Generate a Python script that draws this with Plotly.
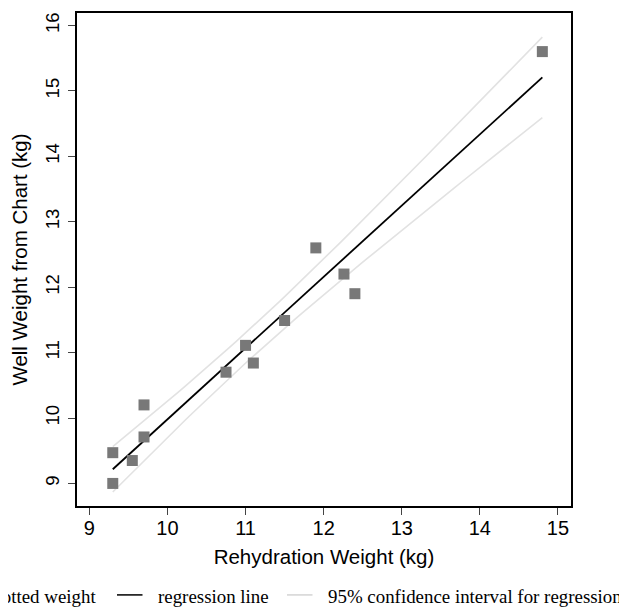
import numpy as np
import plotly.graph_objects as go

# Data
rehydration_kg = [9.3, 9.3, 9.55, 9.7, 9.7, 10.75, 11.0, 11.1, 11.5, 11.9, 12.26, 12.4, 14.8]
well_weight_kg = [9.0, 9.47, 9.35, 10.2, 9.71, 10.70, 11.11, 10.84, 11.49, 12.6, 12.2, 11.9, 15.6]
x_ticks = [9, 10, 11, 12, 13, 14, 15]
y_ticks = [9, 10, 11, 12, 13, 14, 15, 16]
legend_labels = ["Plotted weight", "regression line", "95% confidence interval for regression"]

# Linear fit and 95% CI for the regression line
x = np.array(rehydration_kg)
y = np.array(well_weight_kg)
n = len(x)
slope, intercept = np.polyfit(x, y, 1)
resid = y - (slope * x + intercept)
se = np.sqrt(np.sum(resid ** 2) / (n - 2))
sxx = np.sum((x - x.mean()) ** 2)
t_crit = 2.201  # t(0.975, df=11)
xs = np.linspace(x.min(), x.max(), 60)
yfit = slope * xs + intercept
half = t_crit * se * np.sqrt(1.0 / n + (xs - x.mean()) ** 2 / sxx)

fig = go.Figure()
ci_color = "#e2e2e2"
fig.add_trace(go.Scatter(x=xs, y=yfit + half, mode="lines",
                         line=dict(color=ci_color, width=1.6), showlegend=False, hoverinfo="skip"))
fig.add_trace(go.Scatter(x=xs, y=yfit - half, mode="lines",
                         line=dict(color=ci_color, width=1.6), showlegend=False, hoverinfo="skip"))
fig.add_trace(go.Scatter(x=xs, y=yfit, mode="lines",
                         line=dict(color="black", width=1.8), showlegend=False))
fig.add_trace(go.Scatter(x=rehydration_kg, y=well_weight_kg, mode="markers",
                         marker=dict(symbol="square", size=11, color="#787878"),
                         showlegend=False))

W, H = 627, 615
L, R, T, B = 69, 64, 4.5, 117
pw = W - L - R
ph = H - T - B
OFF = 8  # page offset of the figure inside the browser window

def px_x(p):
    return (p - OFF - L) / pw

def px_y(p):
    return (H - B - (p - OFF)) / ph

legend_font = dict(family="Liberation Serif, Times New Roman, serif", size=18.9, color="black")
line_y = 595
text_y = 597
annotations = [
    dict(text=legend_labels[0], x=px_x(-16), y=px_y(text_y)),
    dict(text=legend_labels[1], x=px_x(156), y=px_y(text_y)),
    dict(text=legend_labels[2], x=px_x(326), y=px_y(text_y)),
]
for a in annotations:
    a.update(xref="paper", yref="paper", xanchor="left", yanchor="middle",
             showarrow=False, font=legend_font)

shapes = [
    dict(type="line", xref="paper", yref="paper", x0=px_x(117), x1=px_x(142.5),
         y0=px_y(line_y), y1=px_y(line_y), line=dict(color="black", width=1.5)),
    dict(type="line", xref="paper", yref="paper", x0=px_x(287), x1=px_x(312.5),
         y0=px_y(line_y), y1=px_y(line_y), line=dict(color="#d4d4d4", width=1.5)),
]

sans = "Liberation Sans, Arial, Helvetica, sans-serif"
title_font = dict(family=sans, size=20.5, color="black")

fig.update_layout(
    width=W, height=H,
    margin=dict(l=L, r=R, t=T, b=B, autoexpand=False),
    paper_bgcolor="white", plot_bgcolor="white",
    annotations=annotations, shapes=shapes,
    xaxis=dict(range=[8.842, 15.167], tickvals=x_ticks, ticks="outside", ticklen=7,
               tickwidth=1.3, tickcolor="#444", showgrid=False, zeroline=False,
               showline=True, linecolor="black", linewidth=1.5, mirror=True,
               tickfont=dict(family=sans, size=20, color="black"),
               ticklabelstandoff=-4,
               title=dict(text="Rehydration Weight (kg)", font=title_font, standoff=12)),
    yaxis=dict(range=[8.655, 16.19], tickvals=y_ticks, ticks="outside", ticklen=7,
               tickwidth=1.3, tickcolor="#444", showgrid=False, zeroline=False,
               showline=True, linecolor="black", linewidth=1.5, mirror=True,
               tickangle=-90, tickfont=dict(family=sans, size=18.5, color="black"),
               ticklabelstandoff=2,
               title=dict(text="Well Weight from Chart (kg)", font=title_font, standoff=11)),
)

fig.write_html("out.html")
